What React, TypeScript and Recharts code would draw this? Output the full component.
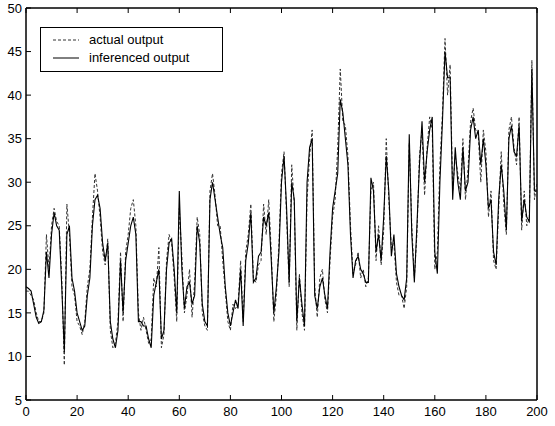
import { LineChart, Line, XAxis, YAxis, ReferenceArea } from "recharts";

// sample index 0..200
const steps: number[] = Array.from({ length: 201 }, (_, i) => i);

const actualOutput: number[] = [
  17.5, 17.5, 17, 16.5, 15, 14, 14, 15, 24, 20,
  25, 27, 25.5, 25, 19, 9, 27.5, 24, 18, 17,
  14, 13.5, 12.5, 14, 18, 20, 26, 31, 29, 26,
  22, 20.5, 23.5, 13, 11, 11.5, 14, 22, 14, 22,
  24, 27, 28, 25, 15, 13, 14.5, 13, 11.5, 12,
  19, 18, 22.5, 11, 12.5, 21, 24, 23, 19, 14,
  27, 21.5, 15, 17, 20, 14.5, 18.5, 26, 24, 15,
  13.5, 13, 29, 31, 28.5, 25, 25, 21, 17.5, 14,
  13, 16, 15.5, 16, 21, 14, 22, 24, 27.5, 19,
  18.5, 20.5, 21, 27.5, 24, 28, 22, 14, 17, 23,
  31, 33.5, 26, 18, 32, 27.5, 13, 19.5, 15, 13,
  28, 33, 36, 18, 14.5, 19, 20, 16.5, 15, 21,
  26, 28, 34, 43, 37, 36.5, 33, 25, 19.5, 20.5,
  22, 19, 20, 18, 19, 29, 30, 21, 25, 20.5,
  24.5, 35, 28, 22.5, 23, 18.5, 17, 17, 15.5, 18,
  34.5, 25, 19, 24, 33, 36, 28.5, 34, 37.5, 36,
  20, 22, 32, 38, 46.5, 40, 43.5, 29, 33, 31,
  29, 35, 28, 31.5, 37, 38.5, 36, 35.5, 30, 36,
  33.5, 26, 29, 21, 20, 27, 33.5, 27.5, 24, 36,
  37.5, 34, 32, 37.5, 24.5, 29, 25, 26, 44, 28,
  30,
];

const inferencedOutput: number[] = [
  18, 17.8, 17.5, 16, 14.5, 13.8, 14, 15.3, 22, 19,
  24, 26.5, 25, 24.5, 18, 10.5, 24, 25, 19, 17.5,
  15, 14, 13, 13.5, 17, 19, 25, 28, 28.5, 27,
  23, 21, 23, 14, 12, 11, 13, 21, 15, 21,
  23, 25, 26, 24, 14, 14, 13.5, 13.5, 12, 11,
  17, 18.5, 20, 12, 13, 20, 23, 23.5, 20, 15,
  29, 20, 15.5, 18, 18.5, 16, 17, 25, 23, 16,
  14, 13.5, 28, 30, 28, 26, 24, 22.5, 18, 15,
  13.5, 15, 16.5, 15.5, 20, 13.5, 21, 23, 26.5, 18.5,
  19, 21.5, 22, 26, 25, 26.5, 21, 15, 18, 22,
  30, 33, 27, 18.5, 30, 28, 14, 19, 16, 13.5,
  30, 34, 35, 17, 15.5, 18, 19, 17, 15.5, 22,
  27, 29, 31, 39.5, 38, 35, 32, 24, 19, 21,
  21.5, 20, 19.5, 18.5, 18.5, 30.5, 29, 22, 24, 21,
  26, 33, 29, 21.5, 24, 19.5, 18, 17, 16.5, 19,
  35.5, 24, 18.5, 25, 32, 37, 30, 33.5, 36, 37.5,
  22, 19.5, 30, 37, 45, 42, 42, 28, 34, 30,
  28, 34, 29, 30, 36, 37.5, 35, 36, 32, 35,
  32, 27, 28, 22, 20.5, 28, 32, 29, 24.5, 35,
  36.5, 33.5, 33, 36.5, 25.5, 28, 26, 25.5, 43, 29,
  29,
];

const xTicks = [0, 20, 40, 60, 80, 100, 120, 140, 160, 180, 200];
const yTicks = [5, 10, 15, 20, 25, 30, 35, 40, 45, 50];

const data = steps.map((x, i) => ({
  x,
  actual: actualOutput[i],
  inferenced: inferencedOutput[i],
}));

const font = "'Liberation Sans', Arial, sans-serif";
const tickStyle = { fill: "#000", fontSize: 13, fontFamily: font };
const noLabel = () => <g />;

function LegendBox() {
  return (
    <div
      style={{
        position: "absolute",
        left: 40,
        top: 27,
        border: "1px solid #000",
        background: "#fff",
        width: 181,
        padding: "3px 0 4px",
        fontFamily: font,
        fontSize: 13,
        color: "#000",
        lineHeight: "18px",
      }}
    >
      <div style={{ display: "flex", alignItems: "center" }}>
        <svg width={48} height={10}>
          <line x1={12} y1={5} x2={38} y2={5} stroke="#333" strokeDasharray="3 2" />
        </svg>
        <span>actual output</span>
      </div>
      <div style={{ display: "flex", alignItems: "center" }}>
        <svg width={48} height={10}>
          <line x1={12} y1={5} x2={38} y2={5} stroke="#000" />
        </svg>
        <span>inferenced output</span>
      </div>
    </div>
  );
}

export default function App() {
  return (
    <div style={{ position: "absolute", left: 0, top: 0, background: "#fff" }}>
      <LineChart
        width={555}
        height={426}
        data={data}
        margin={{ top: 7, right: 17, bottom: 0, left: 0 }}
      >
        <XAxis
          dataKey="x"
          type="number"
          domain={[0, 200]}
          ticks={xTicks}
          height={26}
          tickSize={-5}
          tickMargin={12}
          stroke="#000"
          tick={tickStyle}
        />
        <XAxis
          xAxisId="top"
          orientation="top"
          dataKey="x"
          type="number"
          domain={[0, 200]}
          ticks={xTicks}
          height={1}
          tickSize={-5}
          stroke="#000"
          tick={noLabel}
        />
        <YAxis
          type="number"
          domain={[5, 50]}
          ticks={yTicks}
          width={26}
          tickSize={-5}
          tickMargin={9}
          stroke="#000"
          tick={tickStyle}
        />
        <YAxis
          yAxisId="right"
          orientation="right"
          type="number"
          domain={[5, 50]}
          ticks={yTicks}
          width={1}
          tickSize={-5}
          stroke="#000"
          tick={noLabel}
        />
        <ReferenceArea
          x1={0}
          x2={200}
          y1={5}
          y2={50}
          fill="none"
          stroke="#000"
          strokeWidth={1}
          ifOverflow="visible"
        />
        <Line
          dataKey="actual"
          type="linear"
          stroke="#333"
          strokeWidth={1}
          strokeDasharray="3 2"
          dot={false}
          isAnimationActive={false}
        />
        <Line
          dataKey="inferenced"
          type="linear"
          stroke="#000"
          strokeWidth={1.1}
          dot={false}
          isAnimationActive={false}
        />
      </LineChart>
      <LegendBox />
    </div>
  );
}
